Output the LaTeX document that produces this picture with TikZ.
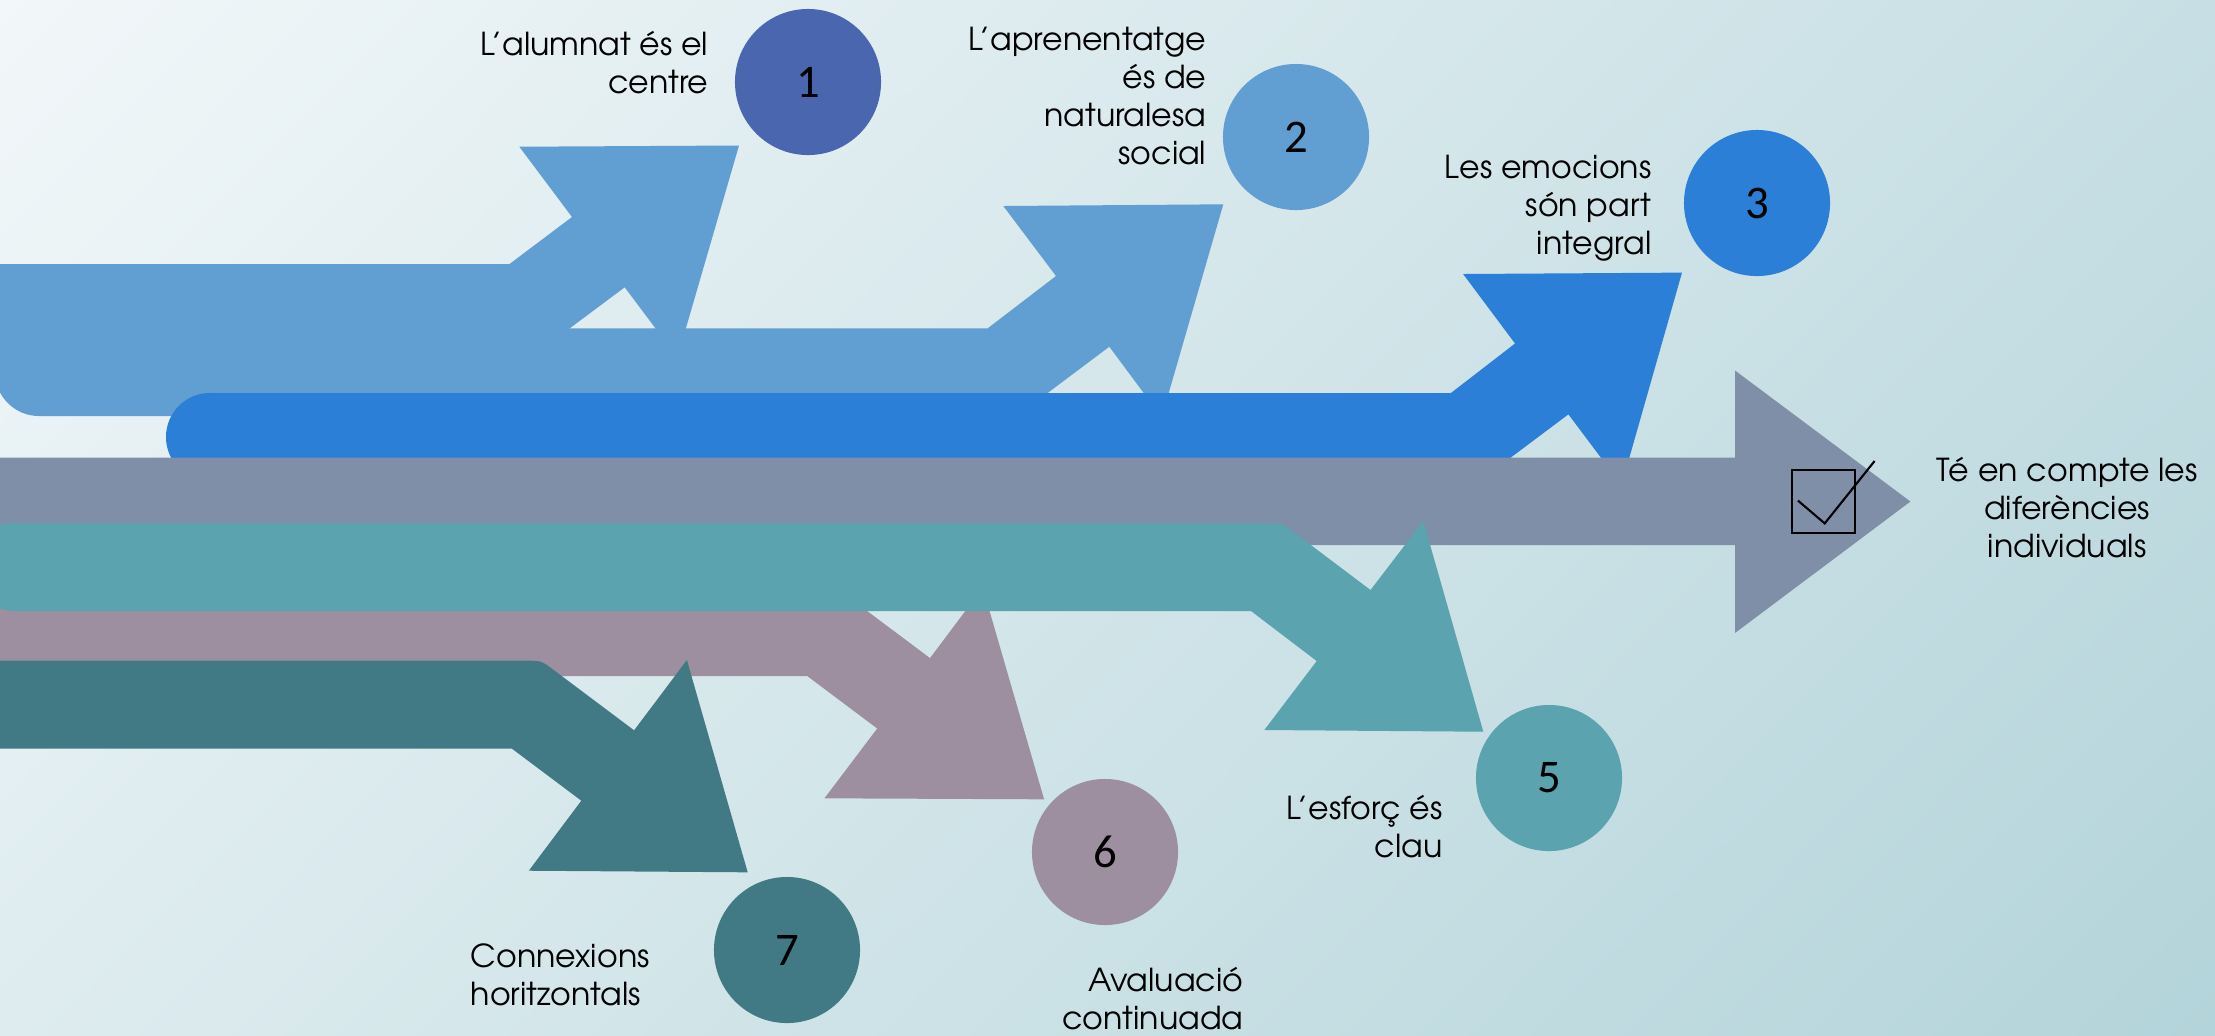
\documentclass[tikz,border=0pt]{standalone}
\usepackage{fontspec}
\usetikzlibrary{shadings}
\setmainfont{TeX Gyre Adventor}
\newfontfamily\digitfont{Carlito}

\definecolor{bgA}{HTML}{F2F7F9}
\definecolor{bgB}{HTML}{C7DFE4}
\definecolor{bgC}{HTML}{DEECEF}
\definecolor{bgD}{HTML}{B3D4DA}
\definecolor{lightblue}{HTML}{619ED1}
\definecolor{darkblue}{HTML}{4A66AE}
\definecolor{brightblue}{HTML}{2B7FD7}
\definecolor{slategray}{HTML}{7F8FA8}
\definecolor{tealfive}{HTML}{5AA3AF}
\definecolor{mauvesix}{HTML}{9E8FA0}
\definecolor{tealseven}{HTML}{417A84}

\begin{document}
\begin{tikzpicture}[x=0.01cm,y=-0.01cm,
    numdot/.style={circle,minimum size=1.46cm,inner sep=0pt,
      font=\digitfont\fontsize{13.3}{16}\selectfont},
    lbl/.style={inner sep=0pt,font=\fontsize{9}{10.8}\selectfont}]
  \useasboundingbox (0,0) rectangle (2215,1035);
  \shade[upper left=bgA,upper right=bgB,lower left=bgC,lower right=bgD]
    (0,0) rectangle (2215,1035);

  \begin{scope}
    \clip (0,0) rectangle (2215,1035);
    % arrows 1 and 2, bending up
    \fill[lightblue] (-60,264) -- (509.5,264) -- (572,217) -- (519.3,146.7)
      -- (739,145.5) -- (677.4,357.5) -- (624.7,287.3) -- (538,352)
      -- (-60,352) -- cycle;
    \fill[lightblue] (39,328.3) -- (987.7,328.3) -- (1056,276) -- (1003.3,206)
      -- (1223.3,204.3) -- (1161.7,417.2) -- (1109.3,346.7) -- (1017,416)
      -- (39,416) arc[start angle=270,end angle=90,radius=0.44cm] -- cycle;
    % arrow 3
    \fill[brightblue] (210,393) -- (1450.9,393) -- (1515,343.5) -- (1463.1,274)
      -- (1682,272.6) -- (1621.5,485.2) -- (1568.4,414.3) -- (1479.5,481)
      -- (210,481) arc[start angle=270,end angle=90,radius=0.44cm] -- cycle;
    % main arrow
    \fill[slategray] (-10,457.5) -- (1735,457.5) -- (1735,370.5)
      -- (1910.4,501.5) -- (1735,633) -- (1735,545) -- (-10,545) -- cycle;
    % arrows 6, 7 and 5, bending down
    \fill[mauvesix] (-10,588) -- (821.5,588) .. controls (836.5,588) .. (848.5,597)
      -- (930,658.1) -- (982.8,587.7) -- (1044.1,799.3) -- (824.4,798.3)
      -- (877.2,728.5) -- (807.2,676) -- (-10,676) -- cycle;
    \fill[tealseven] (-10,660.7) -- (526.3,660.7) .. controls (541.3,660.7) .. (553.3,669.7)
      -- (634.1,730.3) -- (686.9,660) -- (747.7,872.3) -- (528.8,870.7)
      -- (581.3,800.7) -- (512,748.7) -- (-10,748.7) -- cycle;
    \fill[tealfive] (15,523.3) -- (1267,523.3) .. controls (1282,523.3) .. (1294,532.3)
      -- (1370.5,590) -- (1423.3,521) -- (1483.3,731.7) -- (1264.3,730)
      -- (1316.7,661) -- (1251,611) -- (15,611)
      arc[start angle=270,end angle=90,radius=0.44cm] -- cycle;
  \end{scope}

  % numbered circles
  \node[numdot,fill=darkblue] (n1) at (808,82) {1};
  \node[numdot,fill=lightblue] (n2) at (1296,137) {2};
  \node[numdot,fill=brightblue] (n3) at (1757,203) {3};
  \node[numdot,fill=tealfive] (n5) at (1549,778) {5};
  \node[numdot,fill=mauvesix] (n6) at (1105,852) {6};
  \node[numdot,fill=tealseven] (n7) at (787,950) {7};

  % labels (placed at the baseline of their last line)
  \node[lbl,anchor=base east,align=right] (t1) at (709,93.3)
    {L’alumnat és el\\centre};
  \node[lbl,anchor=base east,align=right] (t2) at (1207,164.3)
    {L’aprenentatge\\és de\\naturalesa\\social};
  \node[lbl,anchor=base east,align=right] (t3) at (1652,254)
    {Les emocions\\són part\\integral};
  \node[lbl,anchor=base,align=center] (t4) at (2067,557)
    {Té en compte les\\diferències\\individuals};
  \node[lbl,anchor=base east,align=right] (t5) at (1443,857.5)
    {L’esforç és\\clau};
  \node[lbl,anchor=base east,align=right] (t6) at (1244,1029.4)
    {Avaluació\\continuada};
  \node[lbl,anchor=base west,align=left] (t7) at (470,1005.5)
    {Connexions\\horitzontals};

  % check box on the main arrow
  \node[draw,line width=0.6pt,minimum size=0.63cm,inner sep=0pt] (chk) at (1823.6,501.6) {};
  \draw[line width=0.6pt] (1798,500.6) -- (1824.7,523.4) -- (1874.6,461);
\end{tikzpicture}
\end{document}
